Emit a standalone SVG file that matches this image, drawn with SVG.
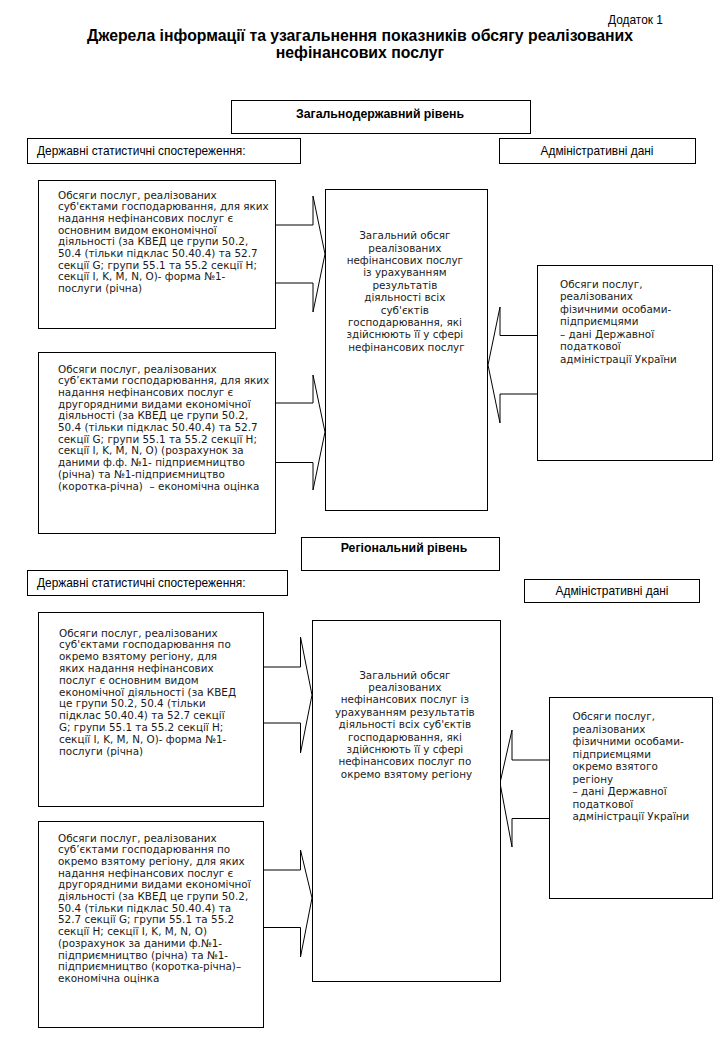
<svg xmlns="http://www.w3.org/2000/svg" width="725" height="1037" viewBox="0 0 725 1037">
<style>
.bx{fill:#fff;stroke:#000;stroke-width:1}
.ar{fill:none;stroke:#000;stroke-width:1}
.b{font-family:"DejaVu Sans",Verdana,sans-serif;font-size:10.4px;fill:#1a1a1a}
.c{text-anchor:middle}
.l{font-family:"Liberation Sans",Arial,sans-serif;font-size:11.9px;fill:#000}
.h{font-family:"Liberation Sans",Arial,sans-serif;font-size:12.3px;font-weight:bold;fill:#000;text-anchor:middle}
.t{font-family:"Liberation Sans",Arial,sans-serif;font-size:15.8px;font-weight:bold;fill:#000;text-anchor:middle}
</style>
<rect width="725" height="1037" fill="#fff"/>
<g id="header">
<text class="l" x="608" y="24">Додаток 1</text>
<text class="t" x="360" y="41">Джерела інформації та узагальнення показників обсягу реалізованих</text>
<text class="t" x="360" y="58">нефінансових послуг</text>
</g>
<g id="connectors">
<polyline class="ar" points="276,225 313,225 313,196 325,254 313,312 313,283 276,283"/>
<polyline class="ar" points="276,403 313,403 313,375 325,432 313,490 313,462.5 276,462.5"/>
<polyline class="ar" points="537,335.5 500,335.5 500,307 488,365 500,423 500,394 537,394"/>
<polyline class="ar" points="263,667 300.5,667 300.5,637 312,695 300.5,753 300.5,723 263,723"/>
<polyline class="ar" points="263,870 300.5,870 300.5,850 312,898 300.5,957 300.5,927.5 263,927.5"/>
<polyline class="ar" points="549,760 512,760 512,730 500,783 512,847 512,818.5 549,818.5"/>
</g>
<g id="national-level">
<rect class="bx" x="231.5" y="100.5" width="299" height="33"/>
<text class="h" x="380" y="118">Загальнодержавний рівень</text>
</g>
<g id="stat-obs-1">
<rect class="bx" x="27.5" y="138.5" width="273" height="25"/>
<text class="l" x="37" y="155">Державні статистичні спостереження:</text>
</g>
<g id="admin-data-1">
<rect class="bx" x="499.5" y="138.5" width="196" height="25"/>
<text class="l c" x="597" y="155">Адміністративні дані</text>
</g>
<g id="box-main-activity-1">
<rect class="bx" x="38.5" y="180.5" width="237" height="148"/>
<text class="b">
<tspan x="58" y="198.5">Обсяги послуг, реалізованих</tspan>
<tspan x="58" y="210.2">суб'єктами господарювання, для яких</tspan>
<tspan x="58" y="221.9">надання нефінансових послуг є</tspan>
<tspan x="58" y="233.6">основним видом економічної</tspan>
<tspan x="58" y="245.3">діяльності (за КВЕД це групи 50.2,</tspan>
<tspan x="58" y="257">50.4 (тільки підклас 50.40.4) та 52.7</tspan>
<tspan x="58" y="268.7">секції G; групи 55.1 та 55.2 секції H;</tspan>
<tspan x="58" y="280.4">секції I, K, M, N, O)- форма №1-</tspan>
<tspan x="58" y="292.1">послуги (річна)</tspan>
</text>
</g>
<g id="box-secondary-activity-1">
<rect class="bx" x="38.5" y="352.5" width="237" height="181"/>
<text class="b">
<tspan x="58" y="372.5">Обсяги послуг, реалізованих</tspan>
<tspan x="58" y="384.2">суб’єктами господарювання, для яких</tspan>
<tspan x="58" y="395.9">надання нефінансових послуг є</tspan>
<tspan x="58" y="407.6">другорядними видами економічної</tspan>
<tspan x="58" y="419.3">діяльності (за КВЕД це групи 50.2,</tspan>
<tspan x="58" y="431">50.4 (тільки підклас 50.40.4) та 52.7</tspan>
<tspan x="58" y="442.7">секції G; групи 55.1 та 55.2 секції H;</tspan>
<tspan x="58" y="454.4">секції I, K, M, N, O) (розрахунок за</tspan>
<tspan x="58" y="466.1">даними ф.ф. №1- підприємництво</tspan>
<tspan x="58" y="477.8">(річна) та №1-підприємництво</tspan>
<tspan x="58" y="489.5" xml:space="preserve">(коротка-річна)  – економічна оцінка</tspan>
</text>
</g>
<g id="total-1">
<rect class="bx" x="325.5" y="189.5" width="162" height="321"/>
<text class="b c">
<tspan x="406.5" y="239.2">Загальний обсяг</tspan>
<tspan x="406.5" y="251.6">реалізованих</tspan>
<tspan x="406.5" y="264">нефінансових послуг</tspan>
<tspan x="406.5" y="276.4">із урахуванням</tspan>
<tspan x="406.5" y="288.8">результатів</tspan>
<tspan x="406.5" y="301.2">діяльності всіх</tspan>
<tspan x="406.5" y="313.6">суб'єктів</tspan>
<tspan x="406.5" y="326">господарювання, які</tspan>
<tspan x="406.5" y="338.4">здійснюють її у сфері</tspan>
<tspan x="406.5" y="350.8">нефінансових послуг</tspan>
</text>
</g>
<g id="individuals-1">
<rect class="bx" x="537.5" y="265.5" width="175" height="195"/>
<text class="b">
<tspan x="560" y="287.8">Обсяги послуг,</tspan>
<tspan x="560" y="300.3">реалізованих</tspan>
<tspan x="560" y="312.8">фізичними особами-</tspan>
<tspan x="560" y="325.3">підприємцями</tspan>
<tspan x="560" y="337.8">– дані Державної</tspan>
<tspan x="560" y="350.3">податкової</tspan>
<tspan x="560" y="362.8">адміністрації України</tspan>
</text>
</g>
<g id="regional-level">
<rect class="bx" x="301.5" y="537.5" width="198" height="33"/>
<text class="h" x="404" y="552">Регіональний рівень</text>
</g>
<g id="stat-obs-2">
<rect class="bx" x="27.5" y="570.5" width="260" height="25"/>
<text class="l" x="37" y="587">Державні статистичні спостереження:</text>
</g>
<g id="admin-data-2">
<rect class="bx" x="524.5" y="579.5" width="175" height="23"/>
<text class="l c" x="612" y="595">Адміністративні дані</text>
</g>
<g id="box-main-activity-2">
<rect class="bx" x="38.5" y="612.5" width="225" height="194"/>
<text class="b">
<tspan x="59" y="636.5">Обсяги послуг, реалізованих</tspan>
<tspan x="59" y="648.3">суб'єктами господарювання по</tspan>
<tspan x="59" y="660.1">окремо взятому регіону, для</tspan>
<tspan x="59" y="671.9">яких надання нефінансових</tspan>
<tspan x="59" y="683.7">послуг є основним видом</tspan>
<tspan x="59" y="695.5">економічної діяльності (за КВЕД</tspan>
<tspan x="59" y="707.3">це групи 50.2, 50.4 (тільки</tspan>
<tspan x="59" y="719.1">підклас 50.40.4) та 52.7 секції</tspan>
<tspan x="59" y="730.9">G; групи 55.1 та 55.2 секції H;</tspan>
<tspan x="59" y="742.7">секції I, K, M, N, O)- форма №1-</tspan>
<tspan x="59" y="754.5">послуги (річна)</tspan>
</text>
</g>
<g id="box-secondary-activity-2">
<rect class="bx" x="38.5" y="821.5" width="225" height="206"/>
<text class="b">
<tspan x="58" y="841.5">Обсяги послуг, реалізованих</tspan>
<tspan x="58" y="853.2">суб’єктами господарювання по</tspan>
<tspan x="58" y="864.9">окремо взятому регіону, для яких</tspan>
<tspan x="58" y="876.6">надання нефінансових послуг є</tspan>
<tspan x="58" y="888.3">другорядними видами економічної</tspan>
<tspan x="58" y="900">діяльності (за КВЕД це групи 50.2,</tspan>
<tspan x="58" y="911.7">50.4 (тільки підклас 50.40.4) та</tspan>
<tspan x="58" y="923.4">52.7 секції G; групи 55.1 та 55.2</tspan>
<tspan x="58" y="935.1">секції H; секції I, K, M, N, O)</tspan>
<tspan x="58" y="946.8">(розрахунок за даними ф.№1-</tspan>
<tspan x="58" y="958.5">підприємництво (річна) та №1-</tspan>
<tspan x="58" y="970.2">підприємництво (коротка-річна)–</tspan>
<tspan x="58" y="981.9">економічна оцінка</tspan>
</text>
</g>
<g id="total-2">
<rect class="bx" x="312.5" y="620.5" width="188" height="361"/>
<text class="b c">
<tspan x="406.5" y="678.5">Загальний обсяг</tspan>
<tspan x="406.5" y="690.9">реалізованих</tspan>
<tspan x="406.5" y="703.3">нефінансових послуг із</tspan>
<tspan x="406.5" y="715.7">урахуванням результатів</tspan>
<tspan x="406.5" y="728.1">діяльності всіх суб'єктів</tspan>
<tspan x="406.5" y="740.5">господарювання, які</tspan>
<tspan x="406.5" y="752.9">здійснюють її у сфері</tspan>
<tspan x="406.5" y="765.3">нефінансових послуг по</tspan>
<tspan x="406.5" y="777.7">окремо взятому регіону</tspan>
</text>
</g>
<g id="individuals-2">
<rect class="bx" x="549.5" y="697.5" width="163" height="201"/>
<text class="b">
<tspan x="572.5" y="720.2">Обсяги послуг,</tspan>
<tspan x="572.5" y="732.7">реалізованих</tspan>
<tspan x="572.5" y="745.2">фізичними особами-</tspan>
<tspan x="572.5" y="757.7">підприємцями</tspan>
<tspan x="572.5" y="770.2">окремо взятого</tspan>
<tspan x="572.5" y="782.7">регіону</tspan>
<tspan x="572.5" y="795.2">– дані Державної</tspan>
<tspan x="572.5" y="807.7">податкової</tspan>
<tspan x="572.5" y="820.2">адміністрації України</tspan>
</text>
</g>
</svg>
